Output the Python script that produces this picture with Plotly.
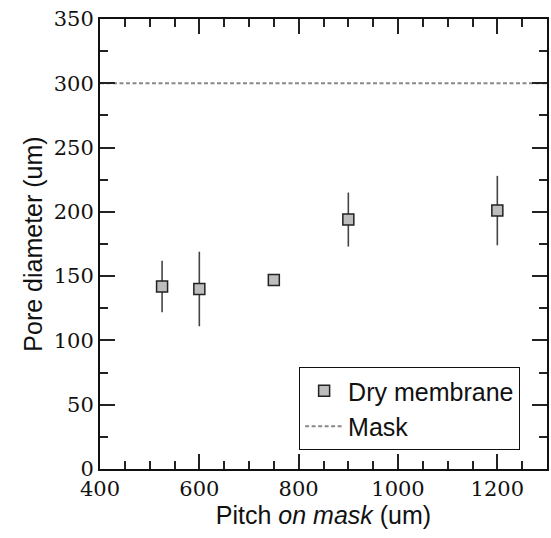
import plotly.graph_objects as go

pitch = [525, 600, 750, 900, 1200]
pore_diameter = [142, 140, 147, 194, 201]
pore_error = [20, 29, 3, 21, 27]
mask_x = [400, 1300]
mask_y = [300, 300]

fig = go.Figure()

fig.add_trace(go.Scatter(
    x=pitch, y=pore_diameter, mode="markers", name="Dry membrane",
    marker=dict(symbol="square", size=11, color="#bdbdbd",
                line=dict(color="#222222", width=1.5)),
    error_y=dict(type="data", array=pore_error, visible=True,
                 color="#444444", thickness=1.6, width=0),
))

fig.add_trace(go.Scatter(
    x=mask_x, y=mask_y, mode="lines", name="Mask",
    line=dict(color="#888888", width=2, dash="4px,2.5px"),
))

axis_common = dict(
    showgrid=False, zeroline=False, showline=True, linecolor="#111111",
    linewidth=2, mirror="ticks", ticks="inside", ticklen=15, tickwidth=1.5,
    tickcolor="#222222", ticklabeloverflow="allow",
    tickfont=dict(family="DejaVu Serif", size=21, color="#111111"),
)

fig.update_xaxes(
    range=[400, 1300], tickmode="linear", tick0=400, dtick=200,
    minor=dict(ticks="inside", ticklen=8, dtick=50, tick0=400,
               tickwidth=1.5, tickcolor="#222222"),
    title=dict(text="Pitch <i>on mask</i> (um)", standoff=0,
               font=dict(family="Liberation Sans", size=25, color="#111111")),
    **axis_common,
)
fig.update_yaxes(
    range=[0, 350], tickmode="linear", tick0=0, dtick=50,
    minor=dict(ticks="inside", ticklen=8, dtick=25, tick0=0,
               tickwidth=1.5, tickcolor="#222222"),
    title=dict(text="Pore diameter (um)", standoff=4,
               font=dict(family="Liberation Sans", size=25, color="#111111")),
    **axis_common,
)

fig.update_layout(
    width=551, height=538,
    margin=dict(l=100, r=2, t=19, b=69),
    paper_bgcolor="white", plot_bgcolor="white",
    showlegend=True,
    legend=dict(
        x=(522 - 100) / 449, xanchor="right",
        y=(469 - 450) / 450, yanchor="bottom",
        bordercolor="#111111", borderwidth=1, bgcolor="white",
        font=dict(family="Liberation Sans", size=25, color="#111111"),
        itemwidth=38, tracegroupgap=0,
    ),
)

fig.write_html(
    "out.html",
    config={"displayModeBar": False},
    post_script="document.body.style.margin='0';document.body.style.overflow='hidden';",
)
